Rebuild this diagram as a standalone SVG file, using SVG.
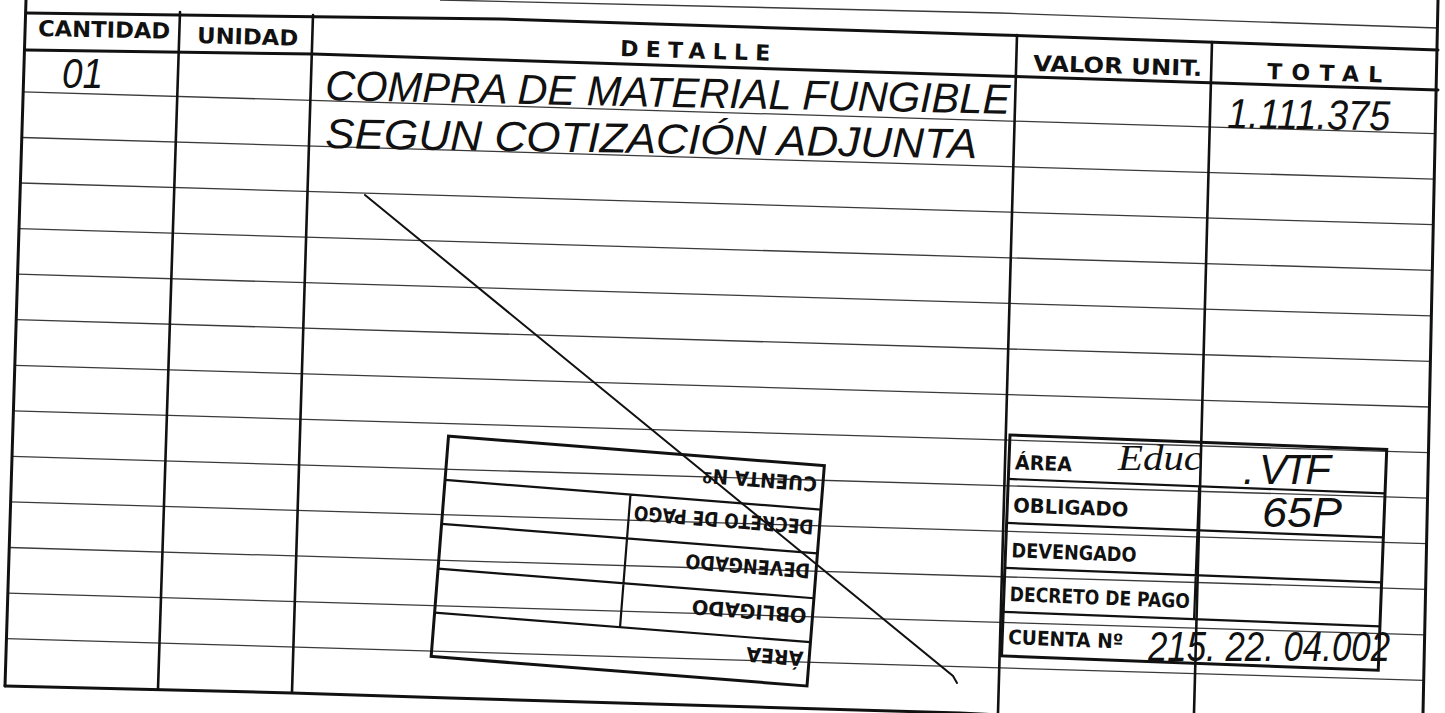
<svg xmlns="http://www.w3.org/2000/svg" width="1445" height="713" viewBox="0 0 1445 713">
<style>
.bd{fill:none;stroke:#111;stroke-width:3;stroke-linejoin:round;stroke-linecap:round}
.cl{fill:none;stroke:#111;stroke-width:2.6;stroke-linecap:round}
.rl{fill:none;stroke:#3a3a3a;stroke-width:1.3}
.hdr{font-family:"DejaVu Sans","Liberation Sans",sans-serif;font-weight:bold;font-size:22px;fill:#111}
.hw{font-family:"Liberation Sans","DejaVu Sans",sans-serif;font-style:italic;font-size:42px;fill:#111}
.cur{font-family:"Liberation Serif","DejaVu Serif",serif;font-style:italic;fill:#111}
.sb{fill:none;stroke:#111;stroke-width:3}
.sl{fill:none;stroke:#111;stroke-width:2.2}
.lb{font-family:"DejaVu Sans","Liberation Sans",sans-serif;font-weight:bold;font-size:20px;fill:#111}
.strike{fill:none;stroke:#111;stroke-width:2;stroke-linecap:round}
</style>
<rect x="0" y="0" width="1445" height="713" fill="#fff"/>

<g id="rows">
<path class="rl" d="M23.2,91.9 L1435.2,133.6"/>
<path class="rl" d="M21.8,137.5 L1434.2,179.1"/>
<path class="rl" d="M20.4,183.0 L1433.3,224.7"/>
<path class="rl" d="M19.0,228.6 L1432.3,270.3"/>
<path class="rl" d="M17.6,274.2 L1431.4,315.9"/>
<path class="rl" d="M16.2,319.7 L1430.4,361.4"/>
<path class="rl" d="M14.8,365.3 L1429.5,407.0"/>
<path class="rl" d="M13.4,410.8 L1428.5,452.6"/>
<path class="rl" d="M12.0,456.4 L1427.5,498.1"/>
<path class="rl" d="M10.6,501.9 L1426.6,543.7"/>
<path class="rl" d="M9.2,547.5 L1425.6,589.3"/>
<path class="rl" d="M7.8,593.1 L1424.7,634.9"/>
<path class="rl" d="M6.4,638.6 L1423.7,680.4"/>
</g>

<g id="form-frame">
<path class="rl" d="M440,0 L1000,13 L1438,28"/>
<path class="bd" d="M26,0 L5,686"/>
<path class="bd" d="M1438,0 L1423,713"/>
<path class="bd" d="M26,13 L500,19 L1000,35 L1438,50"/>
<path class="bd" d="M26,50 L313,54 L500,60 L1000,76 L1438,90"/>
<path class="bd" d="M5,686 L292,693 L450,698 L960,713 L1000,715"/>
<path class="cl" d="M180,12 L158,689"/>
<path class="cl" d="M313,15 L292,692"/>
<path class="cl" d="M1017,35 L998,713"/>
<path class="cl" d="M1212,42 L1194,713"/>
</g>

<g id="header">
<text class="hdr" x="38" y="36" textLength="132" lengthAdjust="spacingAndGlyphs" transform="rotate(1.2 38 36)">CANTIDAD</text>
<text class="hdr" x="197" y="43" textLength="101" lengthAdjust="spacingAndGlyphs" transform="rotate(1.5 197 43)">UNIDAD</text>
<text class="hdr" x="620" y="56" textLength="150" lengthAdjust="spacing" transform="rotate(1.8 620 56)">DETALLE</text>
<text class="hdr" x="1033" y="71" textLength="169" lengthAdjust="spacingAndGlyphs" transform="rotate(1.7 1033 71)">VALOR UNIT.</text>
<text class="hdr" x="1267" y="79" textLength="115" lengthAdjust="spacing" transform="rotate(1.7 1267 79)">TOTAL</text>
</g>

<g id="entries">
<text class="hw" x="62" y="88" font-size="34" textLength="41" lengthAdjust="spacingAndGlyphs">01</text>
<text class="hw" x="325" y="100" textLength="685" lengthAdjust="spacingAndGlyphs" transform="rotate(1.15 325 100)">COMPRA DE MATERIAL FUNGIBLE</text>
<text class="hw" x="325" y="148" textLength="652" lengthAdjust="spacingAndGlyphs" transform="rotate(0.9 325 148)">SEGUN COTIZACIÓN ADJUNTA</text>
<text class="hw" x="1227" y="128" textLength="163" lengthAdjust="spacingAndGlyphs" transform="rotate(0.8 1227 128)">1.111.375</text>
</g>

<g id="connectors">
<path class="strike" d="M365,195 L953,676 L957,683"/>
</g>

<g id="stamp-inverted" transform="translate(807,686) rotate(184.5)">
<rect class="sb" x="0" y="0" width="377" height="221"/>
<path class="sl" d="M0,44H377 M0,88H377 M0,133H377 M0,177H377 M191,44V177"/>
<text class="lb" x="6" y="34" textLength="57" lengthAdjust="spacingAndGlyphs">ÁREA</text>
<text class="lb" x="6" y="77" textLength="115" lengthAdjust="spacingAndGlyphs">OBLIGADO</text>
<text class="lb" x="6" y="122" textLength="125" lengthAdjust="spacingAndGlyphs">DEVENGADO</text>
<text class="lb" x="6" y="166" textLength="180" lengthAdjust="spacingAndGlyphs">DECRETO DE PAGO</text>
<text class="lb" x="6" y="209" textLength="115" lengthAdjust="spacingAndGlyphs">CUENTA Nº</text>
</g>

<g id="stamp-upright" transform="translate(1010,435) rotate(2.2)">
<rect class="sb" x="0" y="0" width="377" height="221"/>
<path class="sl" d="M0,44H377 M0,88H377 M0,133H377 M0,177H377 M191,44V177"/>
<text class="lb" x="6" y="34" textLength="57" lengthAdjust="spacingAndGlyphs">ÁREA</text>
<text class="lb" x="6" y="77" textLength="115" lengthAdjust="spacingAndGlyphs">OBLIGADO</text>
<text class="lb" x="6" y="122" textLength="125" lengthAdjust="spacingAndGlyphs">DEVENGADO</text>
<text class="lb" x="6" y="166" textLength="180" lengthAdjust="spacingAndGlyphs">DECRETO DE PAGO</text>
<text class="lb" x="6" y="209" textLength="115" lengthAdjust="spacingAndGlyphs">CUENTA Nº</text>
</g>

<g id="stamp-entries">
<text class="cur" x="1118" y="470" font-size="36" textLength="84" lengthAdjust="spacingAndGlyphs">Educ</text>
<text class="hw" x="1243" y="484" font-size="28" textLength="88" lengthAdjust="spacing">. VTF</text>
<text class="hw" x="1262" y="527" font-size="30" textLength="80" lengthAdjust="spacingAndGlyphs">65P</text>
<text class="hw" x="1148" y="661" font-size="36" textLength="242" lengthAdjust="spacingAndGlyphs">215. 22. 04.002</text>
</g>
</svg>
